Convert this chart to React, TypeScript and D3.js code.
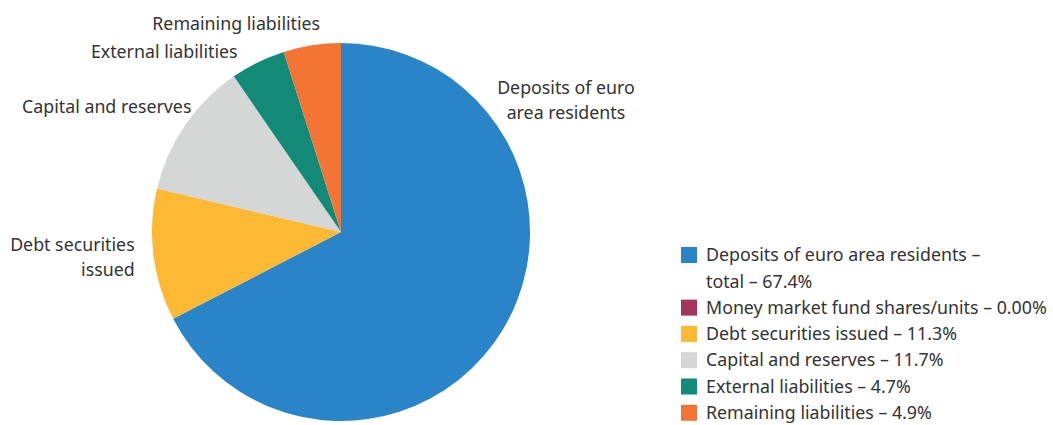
import React from "react";
import * as d3 from "d3";

const categories = [
  "Deposits of euro area residents",
  "Money market fund shares/units",
  "Debt securities issued",
  "Capital and reserves",
  "External liabilities",
  "Remaining liabilities",
];
const values = [67.4, 0.0, 11.3, 11.7, 4.7, 4.9];
const legendLabels = [
  ["Deposits of euro area residents –", "total – 67.4%"],
  ["Money market fund shares/units – 0.00%"],
  ["Debt securities issued – 11.3%"],
  ["Capital and reserves – 11.7%"],
  ["External liabilities – 4.7%"],
  ["Remaining liabilities – 4.9%"],
];
const sliceLabels = [
  ["Deposits of euro", "area residents"],
  [],
  ["Debt securities", "issued"],
  ["Capital and reserves"],
  ["External liabilities"],
  ["Remaining liabilities"],
];
const colors = ["#2a84c8", "#a4345a", "#fdb933", "#d5d7d7", "#128a77", "#f37435"];

// label placement: [angle (deg, clockwise from top) override or null, radius factor, anchor, dx, dy]
const labelPlacement: [number | null, number, string, number, number][] = [
  [59.6, 1.38, "middle", 0, 0],
  [null, 1.1, "end", 0, 0],
  [null, 1.1, "end", 0, 0],
  [null, 1.1, "end", 22, -8],
  [null, 1.1, "end", -12, 6],
  [null, 1.1, "end", 11, -3],
];

const W = 1053;
const H = 425;
const cx = 341;
const cy = 232;
const R = 189;
const FONT = "'Noto Sans', 'Open Sans', sans-serif";
const FS = 17.8;
const TEXT = "#333333";

export default function App() {
  const pie = d3.pie<number>().sort(null).value((d) => d);
  const arcs = pie(values);
  const arc = d3.arc<d3.PieArcDatum<number>>().innerRadius(0).outerRadius(R);
  const lineH = 26.3;
  const legendX = 681;
  const legendTop = 255;

  let row = 0;
  const legendItems = legendLabels.map((lines, i) => {
    const y0 = legendTop + row * lineH;
    row += lines.length;
    return (
      <g key={i}>
        <rect x={legendX} y={y0 - 8} width={16} height={16} fill={colors[i]} />
        {lines.map((t, j) => (
          <text
            key={j}
            x={legendX + 25}
            y={y0 + j * lineH}
            dy="0.35em"
            fontSize={FS}
            fill={TEXT}
            fontFamily={FONT}
          >
            {t}
          </text>
        ))}
      </g>
    );
  });

  return (
    <svg width={W} height={H} style={{ position: "absolute", left: 0, top: 0 }}>
      <rect width={W} height={H} fill="#ffffff" />
      <g transform={`translate(${cx},${cy})`}>
        {arcs.map((a, i) => (
          <path key={i} d={arc(a) || ""} fill={colors[i]} />
        ))}
        {arcs.map((a, i) => {
          const lines = sliceLabels[i];
          if (!lines.length) return null;
          const [ang, rf, anchor, dx, dy] = labelPlacement[i];
          const theta = ang !== null ? (ang * Math.PI) / 180 : (a.startAngle + a.endAngle) / 2;
          const x = Math.sin(theta) * R * rf + dx;
          const y = -Math.cos(theta) * R * rf + dy;
          const n = lines.length;
          return (
            <g key={"l" + i}>
              {lines.map((t, j) => (
                <text
                  key={j}
                  x={x}
                  y={y + (j - (n - 1) / 2) * 25.5}
                  dy="0.35em"
                  textAnchor={anchor}
                  fontSize={FS}
                  fill={TEXT}
                  fontFamily={FONT}
                >
                  {t}
                </text>
              ))}
            </g>
          );
        })}
      </g>
      {legendItems}
    </svg>
  );
}
